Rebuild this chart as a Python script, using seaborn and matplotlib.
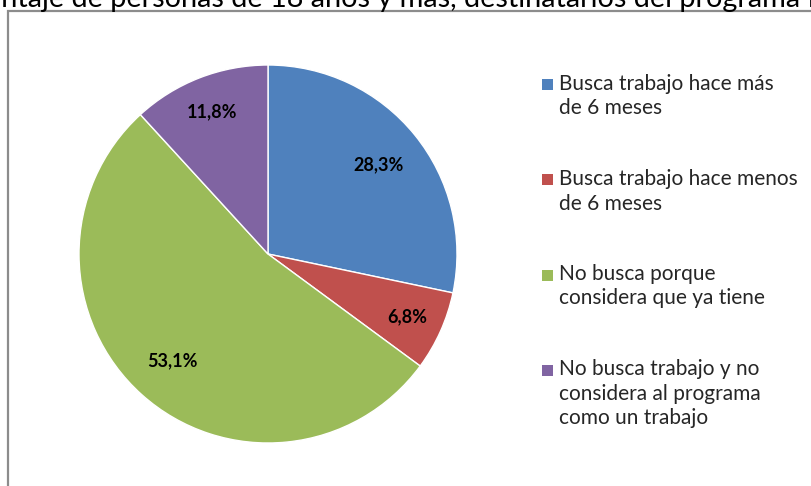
import matplotlib
matplotlib.use("Agg")
import numpy as np
import matplotlib.pyplot as plt
from matplotlib.patches import Rectangle
import seaborn as sns

categories = [
    "Busca trabajo hace más\nde 6 meses",
    "Busca trabajo hace menos\nde 6 meses",
    "No busca porque\nconsidera que ya tiene",
    "No busca trabajo y no\nconsidera al programa\ncomo un trabajo",
]
values = [28.3, 6.8, 53.1, 11.8]
pct_labels = ["28,3%", "6,8%", "53,1%", "11,8%"]
title = "Porcentaje de personas de 18 años y más, destinatarios del programa P"
colors = ["#4F81BD", "#C0504D", "#9BBB59", "#8064A2"]
label_dist = [0.75, 0.81, 0.76, 0.81]

sns.set_theme(style="white")
plt.rcParams["font.family"] = ["Lato", "DejaVu Sans"]

W, H = 812, 486
fig = plt.figure(figsize=(W / 100, H / 100), dpi=100)

# chart border (right and bottom edges run off the picture)
fig.patches.append(Rectangle((8 / W, -0.1), 1.2, (H - 11) / H + 0.1,
                             transform=fig.transFigure, fill=False,
                             edgecolor="#8c8c8c", linewidth=1.6))

# title (clipped at the top edge in the reference)
fig.canvas.draw()
r = fig.canvas.get_renderer()
fs_title = 20
probe = fig.text(0, 0, title[7:], fontsize=fs_title)
wvis = probe.get_window_extent(r).width
probe.remove()
fs_title = fs_title * 800 / wvis
probe = fig.text(0, 0, "Porce", fontsize=fs_title)
wpx = probe.get_window_extent(r).width
probe.remove()
fig.text(-(wpx - 1) / W, (H - 7) / H, title, fontsize=fs_title,
         va="baseline", ha="left", color="black")

cx, cy, rad = 268, H - 254, 189
ax = fig.add_axes([(cx - rad) / W, (cy - rad) / H, 2 * rad / W, 2 * rad / H])
wedges, texts, autotexts = ax.pie(
    values, colors=colors, startangle=90, counterclock=False,
    labels=None, autopct="%1.1f%%", pctdistance=0.78,
    wedgeprops=dict(edgecolor="white", linewidth=1.0),
)
for w, at, lab, d in zip(wedges, autotexts, pct_labels, label_dist):
    ang = np.deg2rad((w.theta1 + w.theta2) / 2)
    at.set_position((d * np.cos(ang), d * np.sin(ang)))
    at.set_text(lab)
    at.set_fontsize(13)
    at.set_fontweight("bold")
    at.set_color("black")
ax.set_xlim(-1, 1)
ax.set_ylim(-1, 1)
ax.set_aspect("equal")
ax.axis("off")

# legend drawn manually so the marker sits on the first text line
baselines = [90, 185, 280, 375]
line_h = 24.5
for cat, col, by in zip(categories, colors, baselines):
    fig.patches.append(Rectangle((542 / W, (H - by - 0.5) / H), 11 / W, 11 / H,
                                 transform=fig.transFigure, facecolor=col, edgecolor="none"))
    for i, line in enumerate(cat.split("\n")):
        fig.text(559 / W, (H - by - i * line_h) / H, line, fontsize=15,
                 va="baseline", ha="left", color="#262626")

fig.savefig("out.png", dpi=100)
